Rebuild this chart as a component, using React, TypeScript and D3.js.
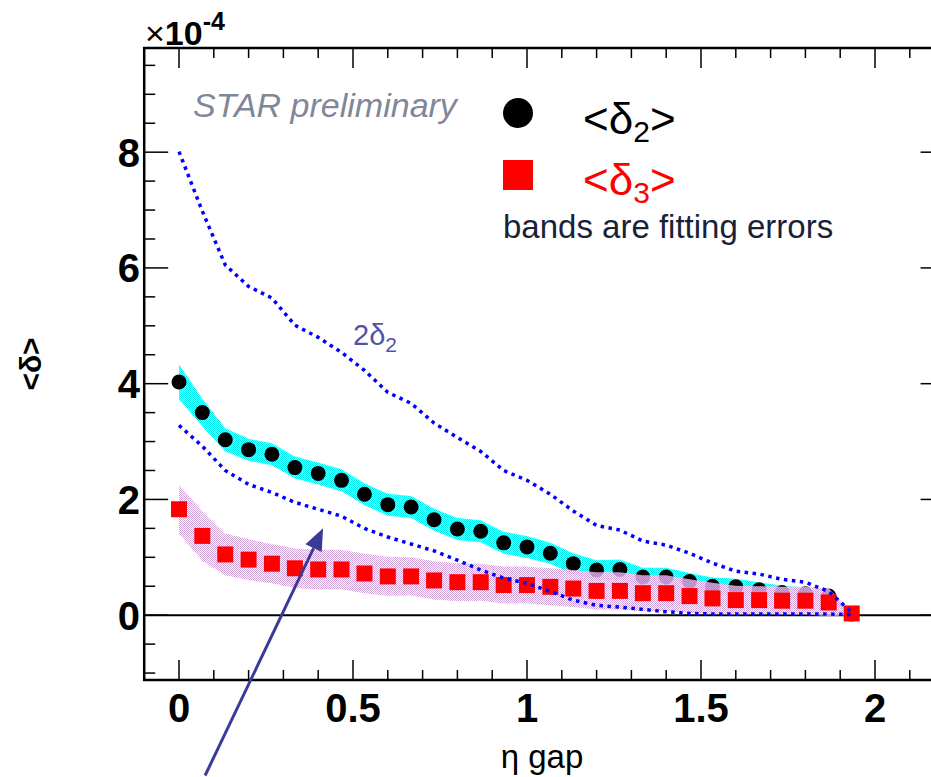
import React from "react";
import * as d3 from "d3";

// eta gap bins
const etaGap = [
  0, 0.067, 0.133, 0.2, 0.267, 0.333, 0.4, 0.467, 0.533, 0.6, 0.667, 0.733, 0.8, 0.867, 0.933,
  1.0, 1.067, 1.133, 1.2, 1.267, 1.333, 1.4, 1.467, 1.533, 1.6, 1.667, 1.733, 1.8, 1.867, 1.933,
];

// <delta_2> (units of 1e-4) and its fit error
const delta2 = [
  4.03, 3.5, 3.03, 2.86, 2.78, 2.55, 2.45, 2.33, 2.09, 1.91, 1.87, 1.65, 1.49, 1.45, 1.25,
  1.18, 1.07, 0.89, 0.78, 0.79, 0.66, 0.66, 0.58, 0.5, 0.49, 0.44, 0.39, 0.37, 0.33, 0.02,
];
const delta2Err = [
  0.3, 0.24, 0.2, 0.19, 0.19, 0.19, 0.19, 0.19, 0.19, 0.19, 0.19, 0.19, 0.19, 0.19, 0.19,
  0.19, 0.18, 0.18, 0.17, 0.17, 0.16, 0.16, 0.15, 0.15, 0.14, 0.13, 0.12, 0.11, 0.1, 0.02,
];

// <delta_3> (units of 1e-4) and its fit error
const delta3 = [
  1.83, 1.37, 1.05, 0.96, 0.89, 0.81, 0.79, 0.79, 0.72, 0.67, 0.67, 0.6, 0.57, 0.57, 0.52,
  0.52, 0.49, 0.46, 0.42, 0.42, 0.38, 0.38, 0.33, 0.29, 0.26, 0.26, 0.25, 0.25, 0.22, 0.03,
];
const delta3Err = [
  0.42, 0.43, 0.36, 0.35, 0.34, 0.34, 0.34, 0.34, 0.34, 0.34, 0.33, 0.33, 0.33, 0.32, 0.32,
  0.32, 0.32, 0.32, 0.32, 0.32, 0.31, 0.31, 0.29, 0.27, 0.25, 0.24, 0.24, 0.24, 0.24, 0.03,
];

// dotted reference curves
const twoDelta2 = [
  8.01, 6.98, 6.05, 5.68, 5.48, 5.01, 4.8, 4.54, 4.23, 3.85, 3.66, 3.32, 3.07, 2.83, 2.5,
  2.33, 2.09, 1.8, 1.55, 1.47, 1.28, 1.21, 1.07, 0.9, 0.76, 0.71, 0.62, 0.57, 0.41, 0.05,
];
const lowerCurve = [
  3.28, 2.92, 2.5, 2.26, 2.12, 1.95, 1.83, 1.71, 1.5, 1.35, 1.23, 1.11, 0.95, 0.78, 0.64,
  0.55, 0.41, 0.26, 0.17, 0.14, 0.1, 0.06, 0.03, 0.02, 0.02, 0.02, 0.02, 0.02, 0.02, 0.01,
];

const xTickLabels = [0, 0.5, 1, 1.5, 2];
const yTickLabels = [0, 2, 4, 6, 8];

const FONT = "'Liberation Sans', Arial, Helvetica, sans-serif";

export default function App() {
  const W = 931;
  const H = 777;
  const x = d3.scaleLinear().domain([-0.1, 2.2]).range([144.2, 944.6]);
  const y = d3.scaleLinear().domain([-1.12, 9.8]).range([680, 48]);

  const [x0, x1] = x.range();
  const [yb, yt] = y.range();

  const idx = d3.range(etaGap.length);
  const band = (v: number[], e: number[]) =>
    d3
      .area<number>()
      .x((i) => x(etaGap[i]))
      .y0((i) => y(v[i] - e[i]))
      .y1((i) => y(v[i] + e[i]))(idx) as string;
  const curve = (v: number[]) =>
    d3
      .line<number>()
      .x((i) => x(etaGap[i]))
      .y((i) => y(v[i]))(idx) as string;

  const xMinor = d3.range(-0.1, 2.2001, 0.1).map((v) => Math.round(v * 10) / 10);
  const yMinor = d3.range(-1, 9.8, 0.5);

  // annotation arrow (data coordinates)
  const arrowFrom = { eta: 0.075, d: -2.77 };
  const arrowTo = { eta: 0.414, d: 1.5 };
  const ax0 = x(arrowFrom.eta);
  const ay0 = y(arrowFrom.d);
  const ax1 = x(arrowTo.eta);
  const ay1 = y(arrowTo.d);
  const ang = Math.atan2(ay1 - ay0, ax1 - ax0);
  const headL = 22;
  const headW = 9;
  const bx = ax1 - headL * Math.cos(ang);
  const by = ay1 - headL * Math.sin(ang);
  const head = [
    [ax1, ay1],
    [bx + headW * Math.sin(ang), by - headW * Math.cos(ang)],
    [bx - headW * Math.sin(ang), by + headW * Math.cos(ang)],
  ];

  const sq = 16;
  const r = 7.5;

  return (
    <svg
      width={W}
      height={H}
      style={{ position: "absolute", left: 0, top: 0, background: "#fff" }}
      fontFamily={FONT}
    >
      <defs>
        <pattern id="cyanFill" width="2" height="2" patternUnits="userSpaceOnUse">
          <rect width="2" height="2" fill="#8ff7f7" />
          <rect x="0" y="0" width="1" height="1" fill="#00f0f0" />
          <rect x="1" y="1" width="1" height="1" fill="#00f0f0" />
        </pattern>
        <pattern id="purpleFill" width="2" height="2" patternUnits="userSpaceOnUse">
          <rect x="0" y="0" width="1" height="1" fill="#cfa3d8" />
          <rect x="1" y="1" width="1" height="1" fill="#cfa3d8" />
          <rect x="1" y="0" width="1" height="1" fill="#ffffff" fillOpacity="0.6" />
          <rect x="0" y="1" width="1" height="1" fill="#ffffff" fillOpacity="0.6" />
        </pattern>
      </defs>

      {/* zero line */}
      <line x1={x0} x2={x1} y1={y(0)} y2={y(0)} stroke="#000" strokeWidth={2} />

      {/* delta_2 error band and points */}
      <path d={band(delta2, delta2Err)} fill="url(#cyanFill)" />
      {idx.map((i) => (
        <circle key={`c${i}`} cx={x(etaGap[i])} cy={y(delta2[i])} r={r} fill="#000" />
      ))}

      {/* delta_3 error band and points */}
      <path d={band(delta3, delta3Err)} fill="url(#purpleFill)" />
      {idx.map((i) => (
        <rect
          key={`s${i}`}
          x={x(etaGap[i]) - sq / 2}
          y={y(delta3[i]) - sq / 2}
          width={sq}
          height={sq}
          fill="#ff0000"
        />
      ))}

      {/* dotted curves */}
      <path d={curve(twoDelta2)} fill="none" stroke="#0000ff" strokeWidth={3.5} strokeDasharray="3.5 4.5" />
      <path d={curve(lowerCurve)} fill="none" stroke="#0000ff" strokeWidth={3.5} strokeDasharray="3.5 4.5" />

      {/* frame */}
      <rect x={x0} y={yt} width={x1 - x0} height={yb - yt} fill="none" stroke="#000" strokeWidth={2.5} />

      {/* x ticks bottom & top */}
      {xMinor.map((v) => {
        const major = xTickLabels.includes(v);
        const len = major ? 20 : 10;
        return (
          <g key={`xt${v}`}>
            <line x1={x(v)} x2={x(v)} y1={yb} y2={yb - len} stroke="#000" strokeWidth={1.5} />
            <line x1={x(v)} x2={x(v)} y1={yt} y2={yt + len} stroke="#000" strokeWidth={1.5} />
          </g>
        );
      })}
      {/* y ticks left & right */}
      {yMinor.map((v) => {
        const major = yTickLabels.includes(v);
        const len = major ? 24 : 11;
        return (
          <g key={`yt${v}`}>
            <line x1={x0} x2={x0 + len} y1={y(v)} y2={y(v)} stroke="#000" strokeWidth={1.5} />
            <line x1={x1} x2={x1 - len} y1={y(v)} y2={y(v)} stroke="#000" strokeWidth={1.5} />
          </g>
        );
      })}

      {/* tick labels */}
      {xTickLabels.map((v) => (
        <text key={`xl${v}`} x={x(v)} y={722} textAnchor="middle" fontSize={40} fontWeight="bold">
          {v}
        </text>
      ))}
      {yTickLabels.map((v) => (
        <text
          key={`yl${v}`}
          x={140}
          y={y(v) + 14.5}
          textAnchor="end"
          fontSize={40}
          fontWeight="bold"
        >
          {v}
        </text>
      ))}

      {/* exponent */}
      <text x={145} y={45} fontSize={34} fontWeight="bold">
        <tspan fontWeight="normal">×</tspan>
        <tspan>10</tspan>
        <tspan dy={-15} fontSize={25}>
          -4
        </tspan>
      </text>

      {/* axis titles */}
      <text x={542} y={768} textAnchor="middle" fontSize={33}>
        η gap
      </text>
      <text
        transform={`translate(41, ${(yb + yt) / 2}) rotate(-90)`}
        textAnchor="middle"
        fontSize={30}
        fontWeight="bold"
      >
        {"<δ>"}
      </text>

      {/* annotations */}
      <text x={193} y={117} fontSize={34} fontStyle="italic" fill="#7f8798">
        STAR preliminary
      </text>
      <text x={353} y={345} fontSize={29} fill="#4f55a8">
        2δ<tspan fontSize={21} dy={7}>2</tspan>
      </text>

      {/* legend */}
      <circle cx={518} cy={113} r={15} fill="#000" />
      <text x={583} y={134} fontSize={44} fill="#000">
        {"<δ"}
        <tspan fontSize={30} dy={8}>2</tspan>
        <tspan dy={-8}>{">"}</tspan>
      </text>
      <rect x={503} y={160} width={30} height={30} fill="#ff0000" />
      <text x={583} y={195} fontSize={44} fill="#ff0000">
        {"<δ"}
        <tspan fontSize={30} dy={8}>3</tspan>
        <tspan dy={-8}>{">"}</tspan>
      </text>
      <text x={503} y={238} fontSize={33} fill="#1a1f3a">
        bands are fitting errors
      </text>

      {/* arrow */}
      <line x1={ax0} y1={ay0} x2={bx} y2={by} stroke="#3a3a98" strokeWidth={3} />
      <polygon points={head.map((p) => p.join(",")).join(" ")} fill="#3a3a98" />
    </svg>
  );
}
